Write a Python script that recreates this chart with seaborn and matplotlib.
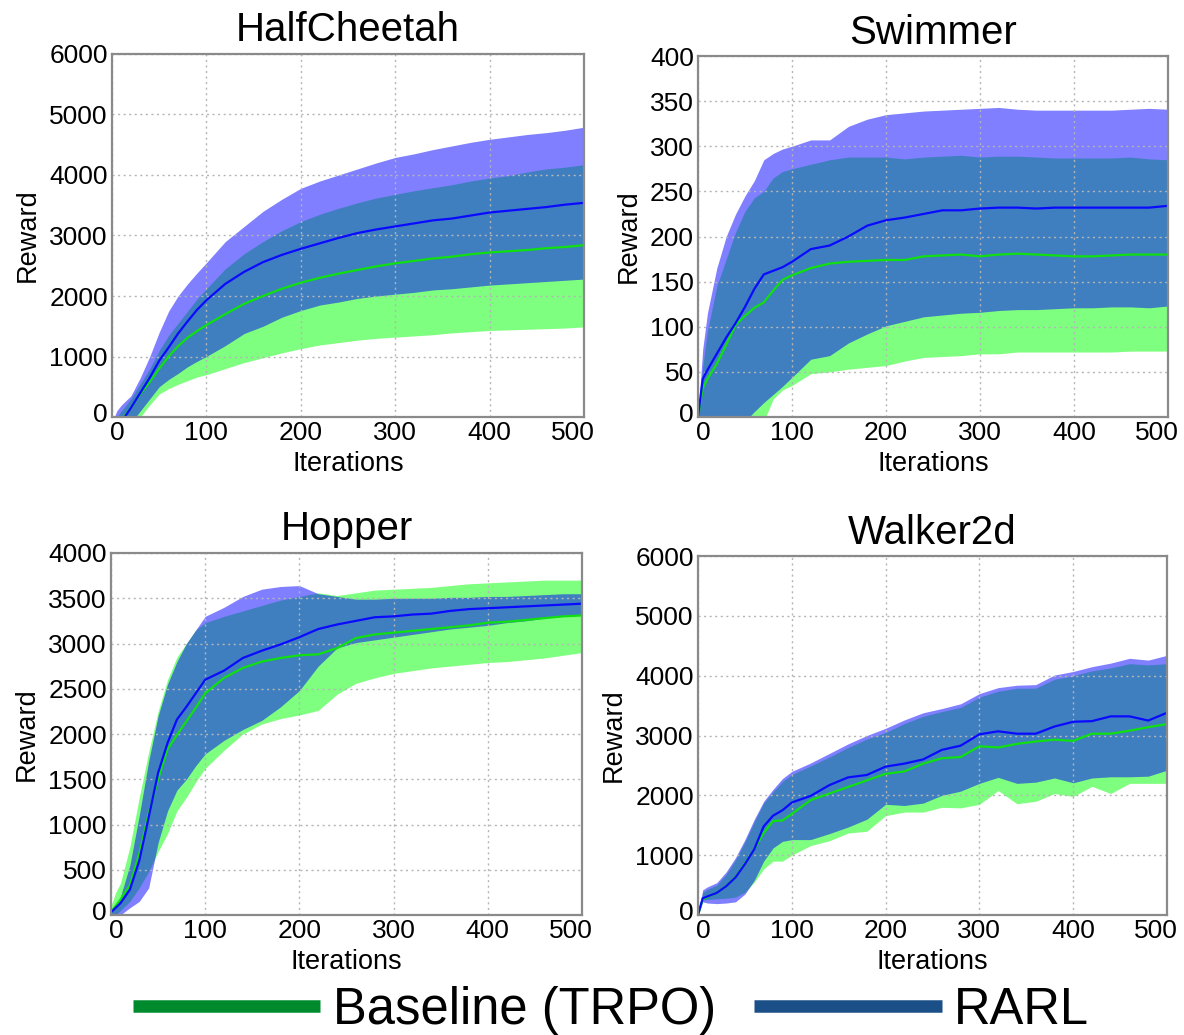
import numpy as np
import pandas as pd
import matplotlib
matplotlib.use("Agg")
import matplotlib.pyplot as plt
from matplotlib.lines import Line2D
from matplotlib.transforms import ScaledTranslation
import seaborn as sns

# ---------------- data ----------------
ITER = [0, 5, 10, 20, 30, 40, 50, 60, 70, 80, 90, 100, 120, 140, 160, 180, 200,
        220, 240, 260, 280, 300, 320, 340, 360, 380, 400, 420, 440, 460, 480, 500]

# HalfCheetah
hc_rarl_mean = [-300, -200, -80, 150, 400, 650, 930, 1150, 1380, 1580, 1770, 1930, 2200, 2400, 2560, 2680, 2780,
                2870, 2960, 3040, 3100, 3150, 3200, 3250, 3280, 3330, 3380, 3410, 3440, 3470, 3510, 3540]
hc_rarl_upper = [-100, 100, 200, 350, 650, 1000, 1400, 1750, 2000, 2200, 2380, 2550, 2900, 3150, 3400, 3600, 3780,
                 3900, 4000, 4100, 4200, 4290, 4350, 4420, 4480, 4540, 4590, 4630, 4670, 4700, 4740, 4790]
hc_rarl_lower = [-600, -500, -350, -100, 100, 300, 500, 620, 720, 830, 920, 1000, 1180, 1380, 1500, 1650, 1760,
                 1850, 1900, 1960, 2000, 2030, 2060, 2100, 2120, 2150, 2180, 2200, 2220, 2240, 2260, 2280]
hc_base_mean = [-250, -150, -50, 150, 380, 580, 800, 1000, 1170, 1310, 1420, 1520, 1700, 1870, 2000, 2120, 2220,
                2300, 2370, 2430, 2490, 2540, 2580, 2620, 2650, 2690, 2720, 2740, 2760, 2790, 2810, 2840]
hc_base_upper = [-100, 0, 100, 300, 550, 800, 1100, 1350, 1550, 1750, 1950, 2120, 2450, 2700, 2900, 3080, 3230,
                 3350, 3450, 3540, 3620, 3680, 3740, 3790, 3840, 3900, 3950, 3990, 4050, 4100, 4130, 4170]
hc_base_lower = [-600, -500, -400, -200, 0, 200, 380, 470, 540, 600, 660, 700, 800, 900, 980, 1060, 1130,
                 1190, 1230, 1270, 1300, 1320, 1340, 1360, 1390, 1410, 1430, 1440, 1450, 1460, 1470, 1490]

# Swimmer
sw_rarl_mean = [0, 42, 52, 70, 88, 104, 122, 142, 158, 162, 166, 172, 186, 190, 200, 212, 218,
                221, 225, 229, 229, 231, 232, 232, 231, 232, 232, 232, 232, 232, 232, 234]
sw_rarl_upper = [0, 75, 115, 165, 200, 225, 245, 262, 285, 292, 297, 300, 307, 307, 322, 330, 335,
                 337, 339, 340, 341, 342, 343, 341, 340, 340, 340, 340, 340, 341, 342, 341]
sw_rarl_lower = [-60, -60, -50, -40, -30, -20, -5, 6, 16, 25, 34, 44, 64, 68, 82, 92, 101,
                 106, 111, 113, 115, 116, 118, 119, 119, 120, 121, 121, 122, 122, 121, 123]
sw_base_mean = [0, 32, 42, 59, 80, 102, 112, 121, 127, 140, 152, 157, 165, 170, 172, 173, 174,
                174, 178, 179, 180, 178, 180, 181, 180, 179, 178, 178, 179, 180, 180, 180]
sw_base_upper = [0, 55, 95, 145, 175, 205, 228, 243, 250, 265, 272, 275, 280, 285, 288, 288, 288,
                 286, 288, 289, 290, 288, 289, 289, 288, 287, 287, 287, 287, 288, 286, 285]
sw_base_lower = [-80, -80, -80, -75, -70, -60, -45, -20, -5, 20, 30, 35, 48, 50, 53, 55, 57,
                 62, 66, 67, 68, 70, 70, 72, 72, 72, 72, 72, 72, 73, 73, 73]

# Hopper
hp_rarl_mean = [30, 80, 130, 280, 600, 1080, 1570, 1900, 2160, 2300, 2450, 2600, 2700, 2840, 2920, 2990, 3070,
                3160, 3210, 3250, 3290, 3300, 3320, 3330, 3360, 3380, 3390, 3400, 3410, 3420, 3430, 3440]
hp_rarl_upper = [50, 100, 200, 550, 1100, 1700, 2200, 2550, 2800, 3000, 3150, 3300, 3400, 3520, 3600, 3630, 3640,
                 3550, 3520, 3490, 3490, 3500, 3500, 3500, 3510, 3510, 3520, 3520, 3530, 3540, 3550, 3550]
hp_rarl_lower = [-50, -50, 0, 80, 150, 300, 800, 1150, 1380, 1500, 1650, 1780, 1930, 2050, 2150, 2300, 2480,
                 2750, 2950, 3010, 3040, 3070, 3100, 3130, 3160, 3180, 3200, 3230, 3250, 3280, 3300, 3320]
hp_base_mean = [30, 100, 170, 330, 680, 1120, 1500, 1830, 1990, 2140, 2290, 2450, 2620, 2730, 2800, 2840, 2870,
                2880, 2950, 3060, 3100, 3120, 3140, 3160, 3180, 3200, 3230, 3240, 3260, 3280, 3300, 3310]
hp_base_upper = [100, 250, 350, 750, 1300, 1800, 2250, 2600, 2850, 3000, 3150, 3230, 3300, 3360, 3420, 3480, 3520,
                 3560, 3530, 3560, 3590, 3600, 3610, 3620, 3640, 3660, 3670, 3680, 3690, 3700, 3700, 3700]
hp_base_lower = [-50, 0, 50, 150, 300, 480, 700, 900, 1150, 1300, 1470, 1620, 1820, 2000, 2110, 2170, 2210,
                 2260, 2440, 2560, 2620, 2670, 2700, 2730, 2750, 2770, 2790, 2800, 2820, 2840, 2870, 2900]

# Walker2d
wk_rarl_mean = [0, 280, 310, 370, 480, 630, 850, 1100, 1480, 1660, 1750, 1880, 1990, 2170, 2300, 2340, 2480,
                2530, 2600, 2760, 2830, 3020, 3070, 3030, 3030, 3150, 3230, 3240, 3320, 3320, 3250, 3380]
wk_rarl_upper = [0, 420, 470, 540, 720, 960, 1260, 1600, 1900, 2100, 2280, 2400, 2540, 2700, 2860, 3000, 3120,
                 3260, 3380, 3450, 3530, 3700, 3800, 3840, 3850, 4010, 4070, 4150, 4210, 4290, 4260, 4340]
wk_rarl_lower = [0, 220, 200, 190, 200, 220, 350, 580, 900, 1120, 1230, 1260, 1260, 1360, 1470, 1600, 1850,
                 1830, 1870, 2000, 2070, 2200, 2300, 2200, 2220, 2290, 2210, 2290, 2310, 2310, 2320, 2420]
wk_base_mean = [0, 260, 300, 370, 480, 640, 860, 1100, 1370, 1570, 1580, 1690, 1920, 2030, 2140, 2250, 2360,
                2400, 2530, 2620, 2640, 2820, 2800, 2860, 2900, 2930, 2910, 3030, 3030, 3080, 3140, 3190]
wk_base_upper = [0, 380, 430, 500, 680, 920, 1220, 1560, 1870, 2060, 2230, 2350, 2490, 2640, 2800, 2940, 3050,
                 3200, 3320, 3400, 3470, 3640, 3740, 3790, 3790, 3940, 4000, 4080, 4130, 4200, 4180, 4200]
wk_base_lower = [0, 250, 260, 270, 280, 300, 380, 550, 770, 900, 900, 1000, 1160, 1240, 1370, 1400, 1660,
                 1720, 1720, 1800, 1790, 1850, 2080, 1860, 1900, 2030, 1980, 2150, 2030, 2200, 2200, 2200]

ENVS = ["HalfCheetah", "Swimmer", "Hopper", "Walker2d"]
Y_MAX = [6000, 400, 4000, 6000]
Y_STEP = [1000, 50, 500, 1000]
SERIES = ["Baseline (TRPO)", "RARL"]

env_data = {
    "HalfCheetah": (hc_base_mean, hc_base_lower, hc_base_upper, hc_rarl_mean, hc_rarl_lower, hc_rarl_upper),
    "Swimmer": (sw_base_mean, sw_base_lower, sw_base_upper, sw_rarl_mean, sw_rarl_lower, sw_rarl_upper),
    "Hopper": (hp_base_mean, hp_base_lower, hp_base_upper, hp_rarl_mean, hp_rarl_lower, hp_rarl_upper),
    "Walker2d": (wk_base_mean, wk_base_lower, wk_base_upper, wk_rarl_mean, wk_rarl_lower, wk_rarl_upper),
}

# ---------------- style ----------------
sns.set_style("whitegrid")
plt.rcParams["font.family"] = ["Liberation Sans", "DejaVu Sans"]
plt.rcParams["text.color"] = "black"
plt.rcParams["axes.labelcolor"] = "black"
plt.rcParams["xtick.color"] = "black"
plt.rcParams["ytick.color"] = "black"

FILL_COLORS = {"Baseline (TRPO)": "#00ff00", "RARL": "#0000ff"}
LINE_COLORS = {"Baseline (TRPO)": "#10e010", "RARL": "#0a0aff"}
LEGEND_COLORS = {"Baseline (TRPO)": "#008a2e", "RARL": "#1b4f87"}

fig = plt.figure(figsize=(11.84, 10.35), dpi=100)
positions = [
    [112 / 1184, 1 - 417 / 1035, 472 / 1184, 363 / 1035],
    [698 / 1184, 1 - 417 / 1035, 470 / 1184, 361 / 1035],
    [111 / 1184, 1 - 915 / 1035, 471 / 1184, 362 / 1035],
    [698 / 1184, 1 - 915 / 1035, 469 / 1184, 359 / 1035],
]

for env, pos, ymax, ystep in zip(ENVS, positions, Y_MAX, Y_STEP):
    ax = fig.add_axes(pos)
    bm, bl, bu, rm, rl, ru = env_data[env]
    ax.fill_between(ITER, bl, bu, color=FILL_COLORS[SERIES[0]], alpha=0.5, linewidth=0, zorder=1)
    ax.fill_between(ITER, rl, ru, color=FILL_COLORS[SERIES[1]], alpha=0.5, linewidth=0, zorder=2)
    df = pd.DataFrame({
        "Iterations": ITER * 2,
        "Reward": list(bm) + list(rm),
        "series": [SERIES[0]] * len(ITER) + [SERIES[1]] * len(ITER),
    })
    sns.lineplot(data=df, x="Iterations", y="Reward", hue="series", hue_order=SERIES,
                 palette=LINE_COLORS, linewidth=1.6, legend=False, ax=ax, zorder=3)
    ax.set_xlim(0, 500)
    ax.set_ylim(0, ymax)
    ax.set_xticks(range(0, 501, 100))
    ax.set_yticks(np.arange(0, ymax + 1, ystep))
    ax.grid(True, color="#b5b5b5", linestyle=(0, (1.5, 2.5)), linewidth=1.0)
    ax.set_axisbelow(False)
    for sp in ax.spines.values():
        sp.set_color("#8a8a8a")
        sp.set_linewidth(1.6)
        sp.set_zorder(5)
    ax.tick_params(axis="both", length=0, pad=3, labelsize=19, colors="black")
    ax.set_title(env, fontsize=29, pad=9, color="black")
    ax.set_xlabel("Iterations", fontsize=19.5, labelpad=4)
    ax.set_ylabel("Reward", fontsize=19.5, labelpad=6)

    # edge tick labels sit slightly inward, as in the reference
    xlabels = ax.get_xticklabels()
    xlabels[0].set_transform(xlabels[0].get_transform() + ScaledTranslation(5 / 100, 0, fig.dpi_scale_trans))
    xlabels[-1].set_transform(xlabels[-1].get_transform() + ScaledTranslation(-11 / 100, 0, fig.dpi_scale_trans))
    ylabels = ax.get_yticklabels()
    ylabels[0].set_transform(ylabels[0].get_transform() + ScaledTranslation(0, 5 / 100, fig.dpi_scale_trans))

handles = [Line2D([0], [0], color=LEGEND_COLORS[s], linewidth=9, solid_capstyle="butt") for s in SERIES]
fig.legend(handles, SERIES, loc="center", bbox_to_anchor=(0.516, 0.024), ncol=2, frameon=False,
           fontsize=36.5, handlelength=3.7, handletextpad=0.25, columnspacing=0.75, borderaxespad=0)

fig.savefig("out.png", dpi=100, facecolor="white")
